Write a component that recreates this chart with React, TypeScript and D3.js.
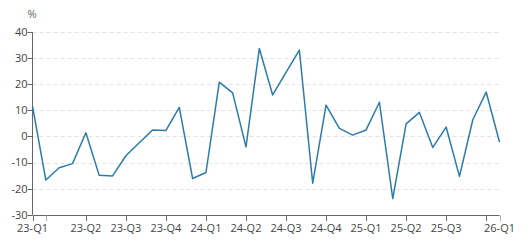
import React from "react";
import * as d3 from "d3";

const values: number[] = [
  11.6, -16.7, -12.0, -10.4, 1.4, -14.9, -15.1, -7.4, -2.4, 2.5, 2.3, 11.1,
  -16.1, -13.8, 20.8, 16.7, -4.0, 33.7, 15.9, 24.5, 33.1, -17.9, 12.0, 3.1,
  0.5, 2.5, 13.1, -23.8, 4.8, 9.2, -4.2, 3.6, -15.3, 6.4, 17.0, -2.1,
];
const tickIndices: number[] = [0, 1, 4, 7, 10, 13, 16, 19, 22, 25, 28, 31, 34, 35];
const labelIndices: number[] = [0, 4, 7, 10, 13, 16, 19, 22, 25, 28, 31, 35];
const labelTexts: string[] = [
  "23-Q1", "23-Q2", "23-Q3", "23-Q4", "24-Q1", "24-Q2", "24-Q3", "24-Q4",
  "25-Q1", "25-Q2", "25-Q3", "26-Q1",
];
const yTicks: number[] = [40, 30, 20, 10, 0, -10, -20, -30];
const unit = "%";

const W = 529;
const H = 243;
const left = 32.5;
const right = 499.5;
const top = 32;
const bottom = 214.8;
const font = "'Open Sans', 'Noto Sans', sans-serif";

export default function App() {
  const x = d3.scaleLinear().domain([0, values.length - 1]).range([left, right]);
  const y = d3.scaleLinear().domain([-30, 40]).range([bottom, top]);
  const line = d3
    .line<number>()
    .x((_, i) => x(i))
    .y((d) => y(d));
  return (
    <svg
      width={W}
      height={H}
      style={{ position: "absolute", left: 0, top: 0, display: "block" }}
    >
      <rect width={W} height={H} fill="#fff" />
      {yTicks.map((t) =>
        t === -30 ? null : (
          <line
            key={"g" + t}
            x1={left}
            x2={right}
            y1={Math.round(y(t)) + 0.5}
            y2={Math.round(y(t)) + 0.5}
            stroke="#e3e3e3"
            strokeDasharray="4,3"
          />
        )
      )}
      <text x={32} y={18} fontSize={11} fill="#666" fontFamily={font} textAnchor="middle">
        {unit}
      </text>
      <line x1={left} x2={left} y1={top} y2={bottom} stroke="#666" />
      {yTicks.map((t) => (
        <g key={"y" + t}>
          <line
            x1={left - 5}
            x2={left}
            y1={Math.round(y(t)) + 0.5}
            y2={Math.round(y(t)) + 0.5}
            stroke="#666"
          />
          <text
            x={left - 5}
            y={y(t)}
            dy="0.35em"
            fontSize={11}
            fill="#444"
            fontFamily={font}
            textAnchor="end"
          >
            {t}
          </text>
        </g>
      ))}
      <line x1={left} x2={right} y1={Math.round(bottom) + 0.5} y2={Math.round(bottom) + 0.5} stroke="#666" />
      {tickIndices.map((i) => (
        <line
          key={"t" + i}
          x1={Math.round(x(i)) + 0.5}
          x2={Math.round(x(i)) + 0.5}
          y1={Math.round(bottom) + 0.5}
          y2={Math.round(bottom) + 6}
          stroke={i === 1 || i === 35 ? "#aaa" : "#666"}
        />
      ))}
      {labelIndices.map((i, k) => (
        <text
          key={"l" + i}
          x={x(i)}
          y={232}
          fontSize={11}
          fill="#444"
          fontFamily={font}
          textAnchor="middle"
        >
          {labelTexts[k]}
        </text>
      ))}
      <path d={line(values) || ""} fill="none" stroke="#2b7bab" strokeWidth={1.5} strokeLinejoin="round" />
    </svg>
  );
}
